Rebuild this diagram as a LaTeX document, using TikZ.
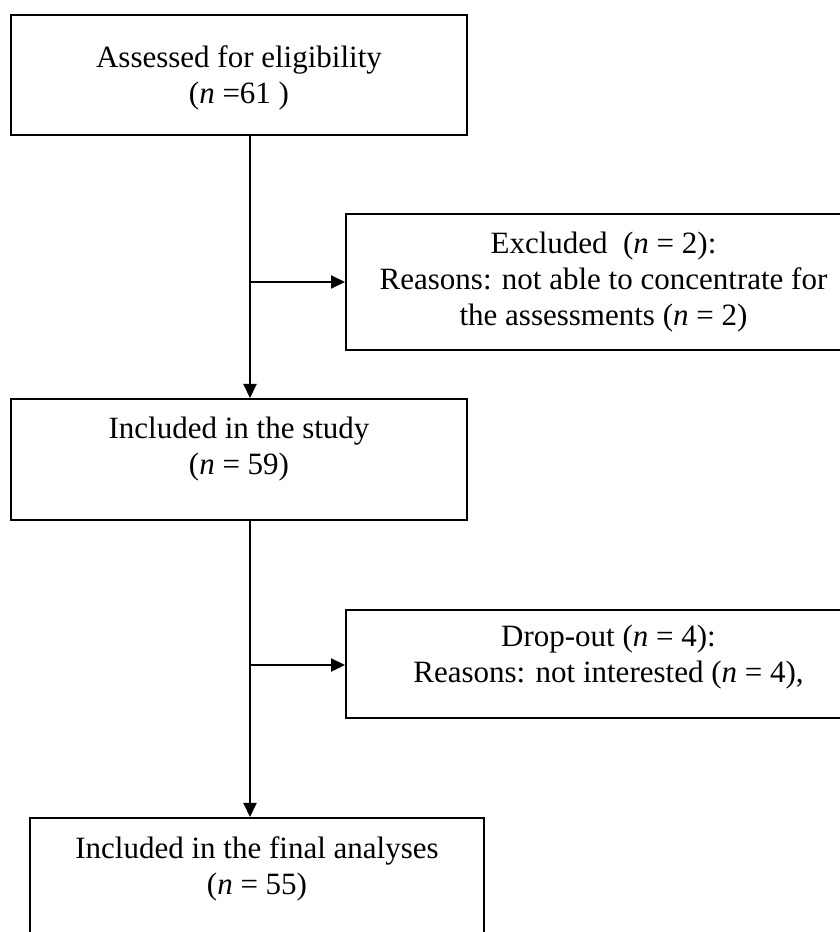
\documentclass[tikz,border=0pt]{standalone}
\usepackage{fontspec}
\setmainfont{Liberation Serif}
\usetikzlibrary{arrows.meta,
                positioning}
\tikzset{
       arr/.style = {-{Triangle[length=14pt,width=13pt]}, line width=2pt},   % flow arrows
       box/.style = {draw, line width=2pt, inner sep=0pt},                  % frames
       txt/.style = {inner sep=0pt, align=center,
                     font=\fontsize{31}{36}\selectfont},
        }
\newcommand{\nn}{{\itshape n}}

\begin{document}
\begin{tikzpicture}[x=1pt,y=1pt]
  \useasboundingbox (0,0) rectangle (839,932);

  % frames
  \node[box, minimum width=456, minimum height=120] (elig)  at (239,857)   {};
  \node[box, minimum width=515, minimum height=136] (excl)  at (603.5,650) {};
  \node[box, minimum width=456, minimum height=121] (incl)  at (239,472.5) {};
  \node[box, minimum width=515, minimum height=108] (drop)  at (603.5,268) {};
  \node[box, minimum width=454, minimum height=130] (final) at (257,49)    {};

  % texts
  \node[txt, below=31 of elig.north]  (eligt)  {Assessed for eligibility\\(\nn{} =61 )};
  \node[txt] (exclt) at (excl) {Excluded\ \ (\nn{} = 2):\\Reasons: not able to concentrate for\\the assessments (\nn{} = 2)};
  \node[txt, below=19 of incl.north]  (inclt)  {Included in the study\\(\nn{} = 59)};
  \node[txt, below=16 of drop.north, xshift=5]  (dropt)  {Drop-out (\nn{} = 4):\\Reasons: not interested (\nn{} = 4),};
  \node[txt, below=19 of final.north] (finalt) {Included in the final analyses\\(\nn{} = 55)};

  % connectors
  \coordinate (j1) at (250,650);
  \coordinate (j2) at (250,267);
  \draw[arr] (elig.south -| j1) -- (incl.north -| j1);
  \draw[arr] (j1) -- (j1 -| excl.west);
  \draw[arr] (incl.south -| j2) -- (final.north -| j2);
  \draw[arr] (j2) -- (j2 -| drop.west);
\end{tikzpicture}
\end{document}
